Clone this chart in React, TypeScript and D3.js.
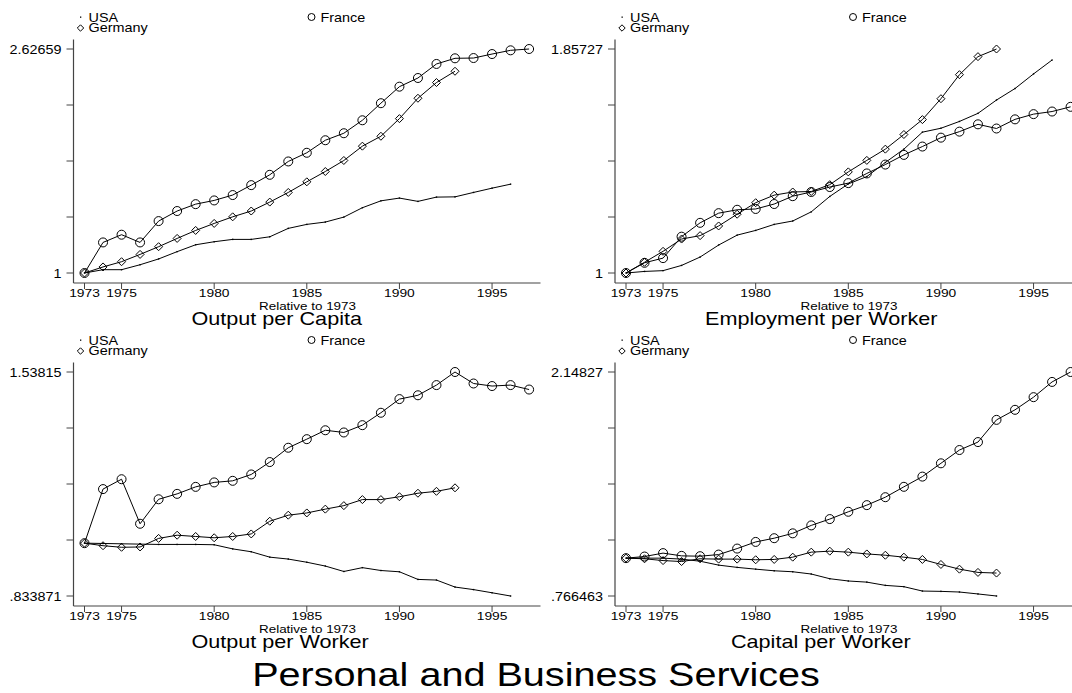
import * as React from "react";
import * as d3 from "d3";

// years on the x axis
const years = [
  1973, 1974, 1975, 1976, 1977, 1978, 1979, 1980, 1981, 1982, 1983, 1984, 1985,
  1986, 1987, 1988, 1989, 1990, 1991, 1992, 1993, 1994, 1995, 1996, 1997,
];
const xTicks = [1973, 1975, 1980, 1985, 1990, 1995];

// Output per Capita
const capitaUSA = [1, 1.024, 1.024, 1.06, 1.102, 1.155, 1.205, 1.227, 1.244, 1.244, 1.263, 1.324, 1.353, 1.37, 1.406, 1.474, 1.524, 1.544, 1.52, 1.551, 1.553, 1.585, 1.616, 1.645];
const capitaFrance = [1, 1.222, 1.278, 1.222, 1.377, 1.45, 1.5, 1.527, 1.566, 1.638, 1.713, 1.81, 1.873, 1.964, 2.015, 2.109, 2.233, 2.353, 2.416, 2.518, 2.559, 2.561, 2.59, 2.617, 2.62659];
const capitaGermany = [1, 1.044, 1.082, 1.135, 1.191, 1.251, 1.309, 1.36, 1.408, 1.45, 1.515, 1.585, 1.662, 1.737, 1.817, 1.921, 1.993, 2.121, 2.269, 2.383, 2.465];

// Employment per Worker
const employUSA = [1, 1.006, 1.009, 1.029, 1.061, 1.107, 1.145, 1.163, 1.186, 1.199, 1.234, 1.293, 1.341, 1.369, 1.423, 1.474, 1.539, 1.554, 1.58, 1.611, 1.662, 1.706, 1.762, 1.815];
const employFrance = [1, 1.039, 1.057, 1.139, 1.192, 1.229, 1.242, 1.245, 1.264, 1.294, 1.31, 1.329, 1.344, 1.381, 1.415, 1.452, 1.484, 1.518, 1.541, 1.569, 1.553, 1.588, 1.608, 1.618, 1.636];
const employGermany = [1, 1.041, 1.083, 1.13, 1.143, 1.18, 1.225, 1.269, 1.298, 1.31, 1.312, 1.338, 1.387, 1.431, 1.474, 1.53, 1.587, 1.667, 1.759, 1.828, 1.85727];

// Output per Worker
const workerUSA = [1, 0.999, 0.998, 0.997, 0.996, 0.996, 0.996, 0.995, 0.982, 0.973, 0.956, 0.95, 0.94, 0.928, 0.911, 0.923, 0.914, 0.91, 0.886, 0.884, 0.862, 0.854, 0.844, 0.833871];
const workerFrance = [1, 1.17, 1.201, 1.061, 1.138, 1.155, 1.177, 1.191, 1.196, 1.216, 1.255, 1.3, 1.327, 1.355, 1.348, 1.371, 1.41, 1.453, 1.465, 1.497, 1.53815, 1.502, 1.494, 1.497, 1.483];
const workerGermany = [1, 0.992, 0.987, 0.988, 1.015, 1.025, 1.021, 1.017, 1.021, 1.029, 1.069, 1.088, 1.095, 1.107, 1.118, 1.137, 1.137, 1.146, 1.157, 1.163, 1.174];

// Capital per Worker
const capitalUSA = [1, 1, 1, 0.994, 0.981, 0.957, 0.943, 0.932, 0.922, 0.916, 0.902, 0.873, 0.859, 0.852, 0.832, 0.824, 0.797, 0.795, 0.791, 0.779, 0.766463];
const capitalFrance = [1, 1.01, 1.031, 1.014, 1.012, 1.022, 1.059, 1.1, 1.123, 1.153, 1.202, 1.241, 1.286, 1.327, 1.376, 1.44, 1.503, 1.585, 1.667, 1.716, 1.853, 1.915, 1.993, 2.087, 2.14827];
const capitalGermany = [1, 0.996, 0.985, 0.979, 0.996, 0.994, 0.994, 0.99, 0.992, 1.006, 1.037, 1.043, 1.037, 1.026, 1.018, 1.006, 0.992, 0.961, 0.932, 0.912, 0.908];

const panelTitles = ["Output per Capita", "Employment per Worker", "Output per Worker", "Capital per Worker"];
const yMin = [1, 1, 0.833871, 0.766463];
const yMax = [2.62659, 1.85727, 1.53815, 2.14827];
const yMinLabels = ["1", "1", ".833871", ".766463"];
const yMaxLabels = ["2.62659", "1.85727", "1.53815", "2.14827"];
const xTitle = "Relative to 1973";
const mainTitle = "Personal and Business Services";

const panels = [
  { usa: capitaUSA, france: capitaFrance, germany: capitaGermany },
  { usa: employUSA, france: employFrance, germany: employGermany },
  { usa: workerUSA, france: workerFrance, germany: workerGermany },
  { usa: capitalUSA, france: capitalFrance, germany: capitalGermany },
];

const FONT = "'Liberation Sans', Arial, Helvetica, sans-serif";
const AXIS = "#444";
const SX = 1.2; // text in the original is drawn wide

// where each panel title starts, relative to its y axis
const titleOffsets = [118, 90, 118, 116];

function T(props: {
  x: number;
  y: number;
  size: number;
  anchor?: string;
  sx?: number;
  children: React.ReactNode;
}) {
  const { x, y, size, anchor = "start", sx = SX, children } = props;
  return (
    <text
      transform={`translate(${x},${y}) scale(${sx},1)`}
      fontSize={size}
      fontFamily={FONT}
      textAnchor={anchor}
      fill="#000"
    >
      {children}
    </text>
  );
}

function Circle({ x, y, r = 4.5 }) {
  return <circle cx={x} cy={y} r={r} fill="none" stroke="#000" strokeWidth={1} />;
}

function Diamond({ x, y, s = 4 }) {
  return (
    <path
      d={`M${x},${y - s}L${x + s},${y}L${x},${y + s}L${x - s},${y}Z`}
      fill="none"
      stroke="#000"
      strokeWidth={1}
    />
  );
}

function Panel({ index }: { index: number }) {
  const col = index % 2;
  const row = Math.floor(index / 2);
  const dy = row * 323;
  const axisX = col === 0 ? 73.5 : 615;
  const axisY = 283 + dy;
  const p = panels[index];

  const x = d3.scaleLinear().domain([1973, 1997]).range([axisX + 11, axisX + 11 + 444.6]);
  const y = d3.scaleLinear().domain([yMin[index], yMax[index]]).range([273 + dy, 49 + dy]);
  const yTicks = d3.range(5).map((i) => yMin[index] + ((yMax[index] - yMin[index]) * i) / 4);

  const line = d3
    .line<number>()
    .x((_, i) => x(years[i]))
    .y((v) => y(v));

  return (
    <g>
      {/* legend */}
      <rect x={axisX + 6.5} y={16.5 + dy} width={1.3} height={1.3} fill="#000" />
      <T x={axisX + 15} y={21.5 + dy} size={12}>USA</T>
      <Diamond x={axisX + 7} y={28 + dy} s={3.2} />
      <T x={axisX + 15} y={32 + dy} size={12}>Germany</T>
      <Circle x={axisX + 238} y={17 + dy} r={3.5} />
      <T x={axisX + 247} y={21.5 + dy} size={12}>France</T>

      {/* axes */}
      <line x1={axisX} x2={axisX} y1={39.5 + dy} y2={axisY} stroke={AXIS} strokeWidth={1.2} />
      <line x1={axisX} x2={axisX + 467} y1={axisY} y2={axisY} stroke={AXIS} strokeWidth={1.2} />
      {yTicks.map((t, i) => (
        <line key={i} x1={axisX - 7} x2={axisX} y1={y(t)} y2={y(t)} stroke={AXIS} strokeWidth={1} />
      ))}
      <T x={axisX - 12} y={y(yMin[index]) + 4.5} size={12} anchor="end">{yMinLabels[index]}</T>
      <T x={axisX - 12} y={y(yMax[index]) + 4.5} size={12} anchor="end">{yMaxLabels[index]}</T>
      {xTicks.map((t) => (
        <g key={t}>
          <line x1={x(t)} x2={x(t)} y1={axisY} y2={axisY + 6} stroke={AXIS} strokeWidth={1} />
          <T x={x(t)} y={297 + dy} size={11.5} anchor="middle">{t}</T>
        </g>
      ))}
      <T x={axisX + 234} y={309.5 + dy} size={11.2} anchor="middle">{xTitle}</T>
      <T x={axisX + titleOffsets[index]} y={325 + dy} size={18}>{panelTitles[index]}</T>

      {/* series */}
      <path d={line(p.usa) ?? ""} fill="none" stroke="#000" strokeWidth={1} />
      {p.usa.map((v, i) => (
        <rect key={`u${i}`} x={x(years[i]) - 0.7} y={y(v) - 0.7} width={1.4} height={1.4} fill="#000" />
      ))}
      <path d={line(p.france) ?? ""} fill="none" stroke="#000" strokeWidth={1} />
      {p.france.map((v, i) => (
        <Circle key={`f${i}`} x={x(years[i])} y={y(v)} />
      ))}
      <path d={line(p.germany) ?? ""} fill="none" stroke="#000" strokeWidth={1} />
      {p.germany.map((v, i) => (
        <Diamond key={`g${i}`} x={x(years[i])} y={y(v)} />
      ))}
    </g>
  );
}

export default function App() {
  return (
    <svg
      width={1072}
      height={693}
      style={{ position: "absolute", left: 0, top: 0, background: "#fff" }}
    >
      <rect width={1072} height={693} fill="#fff" />
      {[0, 1, 2, 3].map((i) => (
        <Panel key={i} index={i} />
      ))}
      <T x={536} y={686} size={33} anchor="middle">{mainTitle}</T>
    </svg>
  );
}
